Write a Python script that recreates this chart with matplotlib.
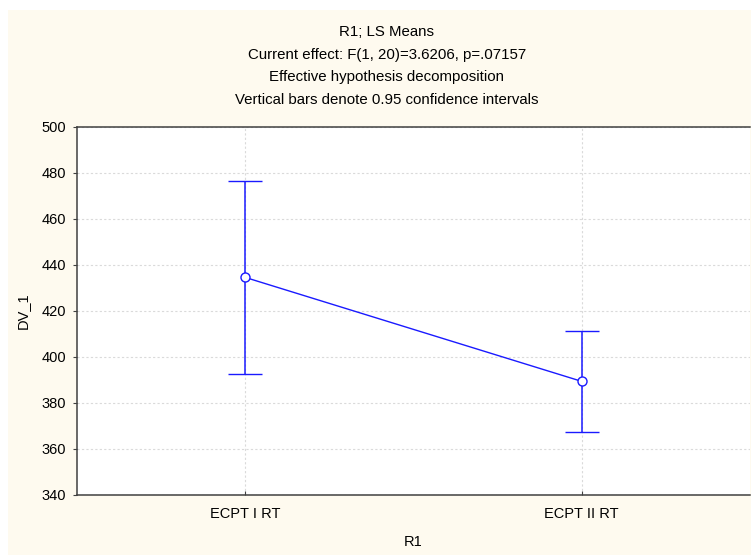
import matplotlib
matplotlib.use("Agg")
import matplotlib.pyplot as plt
from matplotlib.patches import Rectangle

categories = ["ECPT I RT", "ECPT II RT"]
means = [434.6, 389.4]
ci_half = [42.1, 22.1]
yticks = [340, 360, 380, 400, 420, 440, 460, 480, 500]
title_lines = [
    "R1; LS Means",
    "Current effect: F(1, 20)=3.6206, p=.07157",
    "Effective hypothesis decomposition",
    "Vertical bars denote 0.95 confidence intervals",
]

plt.rcParams["font.family"] = ["Liberation Sans", "DejaVu Sans"]
W, H = 751, 555
fig = plt.figure(figsize=(W / 100, H / 100), dpi=100, facecolor="white")
fig.patches.append(
    Rectangle((8 / W, 0), 1 - 8 / W, 1 - 10 / H, transform=fig.transFigure,
              facecolor="#fefaef", edgecolor="none", zorder=-10)
)

ax = fig.add_axes([77 / W, 1 - 495 / H, (750 - 77) / W, (495 - 127) / H])
ax.set_facecolor("white")

x = list(range(len(categories)))
blue = "#1a1aff"
ax.errorbar(x, means, yerr=ci_half, color=blue, lw=1.0, elinewidth=1.1,
            capsize=12, capthick=1.3, marker="o", ms=6.5, mfc="white",
            mec=blue, mew=1.0, zorder=3)

ax.set_xlim(-0.5, 1.5)
ax.set_ylim(340, 500)
ax.set_yticks(yticks)
ax.set_xticks(x)
ax.set_xticklabels(categories)
ax.grid(True, color="#dadada", ls=(0, (2, 2)), lw=0.8)
ax.set_axisbelow(True)

for side in ["left", "bottom", "top"]:
    ax.spines[side].set_color("#404040")
    ax.spines[side].set_linewidth(1.1)
ax.spines["right"].set_visible(False)

ax.tick_params(axis="y", direction="out", length=3, color="#404040",
               labelsize=10.5, pad=5)
ax.tick_params(axis="x", direction="in", length=3, color="#404040",
               labelsize=10.5, pad=9)

ax.set_xlabel("R1", fontsize=10.5, labelpad=10)
ax.set_ylabel("DV_1", fontsize=10.5, labelpad=8)

for i, line in enumerate(title_lines):
    fig.text(387 / W, 1 - (32 + 22.7 * i) / H, line, ha="center",
             va="center", fontsize=10.8)

fig.savefig("out.png", dpi=100, facecolor=fig.get_facecolor())
